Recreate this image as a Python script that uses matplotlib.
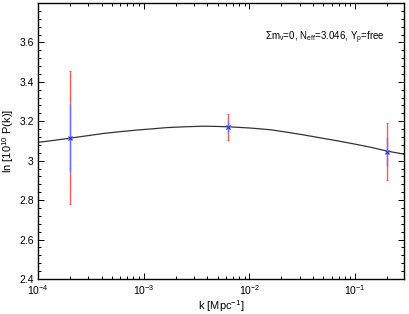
import numpy as np
import matplotlib
matplotlib.use("Agg")
import matplotlib.pyplot as plt
from matplotlib.ticker import MultipleLocator, LogLocator

plt.rcParams['font.family'] = ['Liberation Sans', 'DejaVu Sans']
plt.rcParams['mathtext.fontset'] = 'custom'
plt.rcParams['mathtext.rm'] = 'Liberation Sans'
plt.rcParams['mathtext.it'] = 'Liberation Sans:italic'

# best-fit curve
k_curve = [1e-4, 1.41e-4, 2.0e-4, 2.95e-4, 4.27e-4, 6.17e-4, 8.9e-4,
           1.23e-3, 1.66e-3, 2.45e-3, 3.63e-3, 4.79e-3, 6.31e-3, 1.0e-2,
           1.58e-2, 2.24e-2, 3.24e-2, 4.68e-2, 6.76e-2, 9.55e-2, 0.138,
           0.2, 0.291]
lnP_curve = [3.093, 3.103, 3.114, 3.127, 3.139, 3.148, 3.156,
             3.162, 3.168, 3.172, 3.175, 3.174, 3.172, 3.166,
             3.157, 3.145, 3.131, 3.116, 3.101, 3.086, 3.069,
             3.049, 3.033]

# binned points
k_pts = [2e-4, 6.3e-3, 0.2]
lnP_pts = [3.116, 3.173, 3.046]
err_inner = [0.172, 0.033, 0.072]
err_outer = [0.338, 0.066, 0.145]

fig = plt.figure(figsize=(4.09, 3.14), dpi=100)
ax = fig.add_axes([0.093, 0.1115, 0.8948, 0.879])

ax.plot(k_curve, lnP_curve, color='#333333', lw=0.9, zorder=2)

ax.errorbar(k_pts, lnP_pts, yerr=err_outer, fmt='none', ecolor='#ff5a5a',
            elinewidth=1.0, capsize=0.8, capthick=0.8, zorder=3)
ax.errorbar(k_pts, lnP_pts, yerr=err_inner, fmt='none', ecolor='#6f6fff',
            elinewidth=1.0, zorder=4)
ax.plot(k_pts, lnP_pts, 's', color='#9a9aff', ms=3.5, mec='none', alpha=0.8, zorder=5)
ax.plot(k_pts, lnP_pts, 'x', color='#2a2aee', ms=3.5, mew=0.8, zorder=6)

ax.set_xscale('log')
ax.set_xlim(1e-4, 0.29)
ax.set_ylim(2.4, 3.8)
ax.set_yticks([2.4, 2.6, 2.8, 3.0, 3.2, 3.4, 3.6])
ax.set_yticklabels(['2.4', '2.6', '2.8', '3', '3.2', '3.4', '3.6'])
ax.yaxis.set_minor_locator(MultipleLocator(0.04))
ax.xaxis.set_minor_locator(LogLocator(base=10, subs=np.arange(2, 10), numticks=20))

ax.tick_params(which='both', direction='in', top=True, right=True, labelsize=7.5,
               width=0.7, pad=3)
ax.tick_params(which='major', length=4)
ax.tick_params(which='minor', length=2)
for s in ax.spines.values():
    s.set_linewidth(1.0)

ax.set_xlabel('k [Mpc$^{-1}$]', fontsize=8, labelpad=1)
ax.set_ylabel('ln [10$^{10}$ P(k)]', fontsize=8, labelpad=2)

ax.text(0.62, 0.873, 'Σm$_{\\mathrm{ν}}$=0, N$_{\\mathrm{eff}}$=3.046, Y$_{\\mathrm{p}}$=free',
        transform=ax.transAxes, fontsize=7, ha='left', va='center')

fig.savefig('out.png', dpi=100)
